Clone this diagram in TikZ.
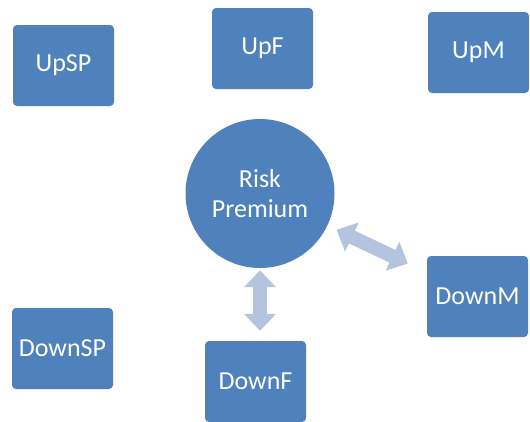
\documentclass[tikz,border=0pt]{standalone}
\usepackage{fontspec}
\setmainfont{Carlito}
\usepackage{xcolor}
\definecolor{rpblue}{HTML}{4F81BD}
\definecolor{rplight}{HTML}{B4C4DF}
\usepackage{tikz}
\usetikzlibrary{positioning,arrows.meta,calc}

\begin{document}
\begin{tikzpicture}[
  x=1pt, y=-1pt,
  box/.style={fill=rpblue, rounded corners=4pt, minimum width=101pt, minimum height=81pt,
              inner sep=0pt, text=white, font=\fontsize{26}{30}\selectfont},
  hub/.style={circle, fill=rpblue, minimum size=149pt, inner sep=0pt, text=white,
              align=center, font=\fontsize{26}{30}\selectfont},
  arr/.style={{Triangle[length=17pt,width=31pt]}-{Triangle[length=17pt,width=31pt]},
              line width=14pt, rplight},
]
  \useasboundingbox (0,0) rectangle (530,421);

  % Risk premium in the middle
  \node[hub] (rp) at (260,193.5) {Risk\\Premium};

  % Up boxes
  \node[box] (upSP) at (63.5,65.5)  {UpSP};
  \node[box] (upF)  at (262.5,48.5) {UpF};
  \node[box] (upM)  at (478.5,52.5) {UpM};

  % Down boxes
  \node[box] (downSP) at (62.5,348.5)  {DownSP};
  \node[box] (downF)  at (255.5,381.5) {DownF};
  \node[box] (downM)  at (477.5,296.5) {DownM};

  % Arrows
  \draw[arr, shorten <=2pt, shorten >=10pt] (rp.south) -- (rp.south |- downF.north);
  \draw[arr, shorten <=10pt, shorten >=21pt] (rp) -- (downM);
\end{tikzpicture}
\end{document}
